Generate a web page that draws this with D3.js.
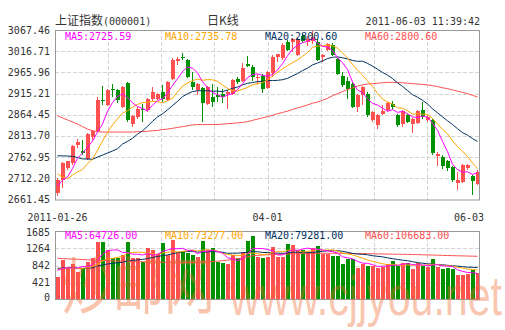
<!DOCTYPE html>
<html>
<head>
<meta charset="utf-8">
<script src="https://cdn.jsdelivr.net/npm/d3@7"></script>
<style>
  html, body { margin: 0; padding: 0; background: #fff; }
  svg { display: block; font-family: "DejaVu Sans Mono", monospace; }
</style>
</head>
<body>
<svg id="chart" width="505" height="330"></svg>
<script>
// ---- Daily K-line data: SSE Composite (000001), 2011-01-26 .. 2011-06-03 ----
const dates = [
  "2011-01-26","2011-01-27","2011-01-28","2011-01-31",
  "2011-02-01","2011-02-09","2011-02-10","2011-02-11","2011-02-14","2011-02-15","2011-02-16","2011-02-17","2011-02-18",
  "2011-02-21","2011-02-22","2011-02-23","2011-02-24","2011-02-25","2011-02-28",
  "2011-03-01","2011-03-02","2011-03-03","2011-03-04","2011-03-07","2011-03-08","2011-03-09","2011-03-10","2011-03-11",
  "2011-03-14","2011-03-15","2011-03-16","2011-03-17","2011-03-18","2011-03-21","2011-03-22","2011-03-23","2011-03-24",
  "2011-03-25","2011-03-28","2011-03-29","2011-03-30","2011-03-31",
  "2011-04-01","2011-04-06","2011-04-07","2011-04-08","2011-04-11","2011-04-12","2011-04-13","2011-04-14","2011-04-15",
  "2011-04-18","2011-04-19","2011-04-20","2011-04-21","2011-04-22","2011-04-25","2011-04-26","2011-04-27","2011-04-28","2011-04-29",
  "2011-05-03","2011-05-04","2011-05-05","2011-05-06","2011-05-09","2011-05-10","2011-05-11","2011-05-12","2011-05-13",
  "2011-05-16","2011-05-17","2011-05-18","2011-05-19","2011-05-20","2011-05-23","2011-05-24","2011-05-25","2011-05-26",
  "2011-05-27","2011-05-30","2011-05-31",
  "2011-06-01","2011-06-02","2011-06-03"
];

const opens = [
  2677,2707,2736,2749,2791,2778,2759,2811,2826,2900,
  2889,2927,2923,2883,2941,2843,2859,2879,2875,2901,
  2903,2919,2899,2950,2994,3003,2995,2943,2923,2929,
  2891,2906,2911,2915,2915,2915,2950,2946,2986,2980,
  2953,2958,2929,2965,3002,3000,3039,3039,3007,3053,
  3039,3040,3039,3002,3020,3031,2999,2958,2946,2939,
  2883,2911,2915,2851,2839,2867,2875,2891,2863,2843,
  2863,2843,2845,2877,2853,2851,2765,2763,2753,2739,
  2701,2703,2737,2718,2699
];
const highs = [
  2712,2752,2754,2792,2806,2804,2820,2828,2907,2934,
  2926,2937,2927,2934,2944,2863,2884,2891,2905,2931,
  2917,2935,2946,3001,3003,3013,2998,2967,2940,2932,
  2934,2939,2931,2925,2923,2949,2954,2988,3005,2984,
  2963,2961,2970,3008,3011,3036,3044,3049,3050,3058,
  3052,3067.46,3045,3011,3037,3036,3001,2967,2955,2942,
  2914,2934,2920,2874,2866,2887,2896,2898,2866,2877,
  2866,2857,2877,2895,2863,2854,2775,2769,2756,2742,
  2727,2746,2746,2721,2731
];
const lows = [
  2671,2688,2731,2745,2786,2767,2755,2803,2824,2887,
  2886,2907,2892,2880,2848,2836,2855,2846,2870,2897,
  2900,2896,2897,2947,2983,2995,2952,2923,2911,2847,
  2888,2883,2895,2893,2879,2912,2939,2944,2978,2946,
  2939,2916,2925,2955,2991,2996,3016,3015,3004,3036,
  3030,3035,2993,2991,3017,3004,2960,2931,2903,2880,
  2871,2887,2860,2847,2831,2863,2872,2876,2836,2835,
  2844,2820,2842,2855,2847,2768,2741,2735,2730,2703,
  2685,2700,2733,2673,2696
];
const closes = [
  2708.84,2749.15,2752.75,2790.69,2798.96,2772,2818,2826,2899,2897,
  2923,2923,2899,2931,2851,2861,2879,2875,2903,2919,
  2915,2901,2943,2995,2999,3001,2955,2931,2938,2893,
  2931,2895,2906,2907,2919,2947,2943,2977,2981,2956,
  2955,2925,2967,3002,3009,3031,3020,3047,3047,3041,
  3047,3050,2996,3007,3033,3007,2963,2935,2927,2883,
  2911,2931,2863,2871,2863,2874,2893,2882,2839,2874,
  2847,2854,2874,2858,2859.2,2774,2770,2742,2736,2707.85,
  2707.87,2743.47,2743.42,2705.17,2728.02
];
// trading volume, in units of the volume axis
const volumes = [
  570,980,780,870,690,790,935,1015,1425,1425,
  1220,1015,1035,1100,1425,1015,1015,935,1280,1220,
  1120,1385,1100,1465,1180,1180,1140,1100,1060,1440,
  1220,1260,920,895,870,1090,1015,1180,1450,1575,
  1060,1020,1060,1300,1060,1060,1370,1345,1220,1220,
  1180,1260,1330,1115,1115,1085,1085,870,995,995,
  775,870,840,840,775,800,880,950,820,900,
  900,760,900,820,798.5,1000,800,760,770,761.4,
  602,602,625,743,664.3
];

// sessions before the window (2010-12-29 .. 2011-01-25), used to seed the 5/10/20-day averages
const prevCloses = [2751,2760,2808,2853,2839,2824,2839,2791,2805,2821,
                    2827,2791,2706,2722,2714,2680,2715,2689,2677];
const prevVolumes = [820,760,700,880,940,860,790,720,680,830,
                     770,640,910,820,700,760,690,880,720];

// 60-day averages over the window
const ma60 = [
  2862,2857,2852,2847,2842,2836,2830,2826,2824,2823,
  2823,2823,2823,2823,2823,2823,2824,2824,2825,2826,
  2827,2829,2830,2832,2834,2836,2838,2840,2841,2841,
  2841,2841,2841,2842,2843,2844,2845,2846,2848,2851,
  2854,2857,2860,2863,2867,2870,2873,2877,2881,2884,
  2888,2892,2895,2899,2904,2910,2915,2920,2925,2929,
  2933,2936,2938,2939,2940,2941,2942,2942,2942,2941,
  2940,2939,2938,2937,2936,2934,2932,2929,2927,2924,
  2921,2918,2915,2911,2907
];
const volMa60 = [
  1017,1012,1006,1000,994,988,982,976,970,965,
  960,956,952,948,944,940,936,932,929,926,
  924,922,920,919,918,918,919,921,924,927,
  930,940,950,960,975,990,1010,1030,1055,1080,
  1090,1098,1105,1110,1115,1120,1124,1128,1132,1136,
  1140,1141,1142,1142,1142,1141,1140,1139,1138,1137,
  1135,1133,1131,1129,1126,1123,1121,1119,1117,1115,
  1113,1111,1108,1105,1101,1097,1094,1090,1086,1083,
  1080,1077,1074,1070,1066.83
];

const priceTicks = ["3067.46","3016.71","2965.96","2915.21","2864.45","2813.70","2762.95","2712.20","2661.45"];
const volumeTicks = ["1685","1264","842","421","0"];
const dateTicks = ["2011-01-26","2011-04-01","2011-06-03"];
const dateTickLabels = ["2011-01-26","04-01","06-03"];

const priceLegend = ["MA5:2725.59","MA10:2735.78","MA20:2800.60","MA60:2800.60"];
const volumeLegend = ["MA5:64726.00","MA10:73277.00","MA20:79281.00","MA60:106683.00"];

const titleName = "上证指数";
const titleCode = "(000001)";
const periodLabel = "日K线";
const timestamp = "2011-06-03 11:39:42";
const watermarkCn = "炒邮网";
const watermarkEn = "www.cjjyou.net";

// ---- layout & styles ----
const RED = "#ff5050", GREEN = "#009100";
const maColors = ["#ff00ff", "#ffa500", "#00315f", "#ff5050"];
const left = 55, right = 480;
const priceTop = 30, priceBottom = 199.5;
const volTop = 231, volBottom = 300;

const svg = d3.select("#chart");

const x = d3.scaleBand().domain(dates).range([left, right]).paddingInner(0.2).paddingOuter(0.1);
const bw = x.bandwidth();
const cx = d => x(d) + bw / 2;

const pMin = +priceTicks[priceTicks.length - 1], pMax = +priceTicks[0];
const y = d3.scaleLinear().domain([pMin, pMax]).range([priceBottom, priceTop]);
const vy = d3.scaleLinear().domain([0, +volumeTicks[0]]).range([volBottom, volTop]);
const gx = d3.scaleLinear().domain([0, 8]).range([left, right]);

const days = dates.map((d, i) => ({
  date: d, open: opens[i], high: highs[i], low: lows[i], close: closes[i], volume: volumes[i]
}));

function movingAverage(prev, vals, n) {
  const s = prev.concat(vals);
  return vals.map((_, i) => d3.mean(s.slice(prev.length + i - n + 1, prev.length + i + 1)));
}
const priceMA = [movingAverage(prevCloses, closes, 5), movingAverage(prevCloses, closes, 10),
                 movingAverage(prevCloses, closes, 20), ma60];
const volMA = [movingAverage(prevVolumes, volumes, 5), movingAverage(prevVolumes, volumes, 10),
               movingAverage(prevVolumes, volumes, 20), volMa60];

// ---- grids ----
const grid = svg.append("g").attr("stroke", "#d4d4d4").attr("stroke-dasharray", "4,2").attr("shape-rendering", "crispEdges");
priceTicks.slice(1, -1).forEach(t => {
  grid.append("line").attr("x1", left).attr("x2", right).attr("y1", Math.round(y(+t)) + 0.5).attr("y2", Math.round(y(+t)) + 0.5);
});
volumeTicks.slice(1, -1).forEach(t => {
  grid.append("line").attr("x1", left).attr("x2", right).attr("y1", Math.round(vy(+t)) + 0.5).attr("y2", Math.round(vy(+t)) + 0.5);
});
d3.range(1, 8).forEach(k => {
  const gxv = Math.round(gx(k)) + 0.5;
  grid.append("line").attr("x1", gxv).attr("x2", gxv).attr("y1", priceTop).attr("y2", priceBottom);
  grid.append("line").attr("x1", gxv).attr("x2", gxv).attr("y1", volTop).attr("y2", volBottom);
});

const colorOf = d => (d.close >= d.open ? RED : GREEN);

// ---- volume bars ----
svg.append("g").attr("shape-rendering", "crispEdges")
  .selectAll("rect").data(days).join("rect")
  .attr("x", d => x(d.date)).attr("width", bw)
  .attr("y", d => vy(d.volume)).attr("height", d => vy(0) - vy(d.volume))
  .attr("fill", colorOf);

// ---- candlesticks ----
const candles = svg.append("g").attr("shape-rendering", "crispEdges");
candles.selectAll("line").data(days).join("line")
  .attr("x1", d => Math.floor(cx(d.date)) + 0.5).attr("x2", d => Math.floor(cx(d.date)) + 0.5)
  .attr("y1", d => y(d.high)).attr("y2", d => y(d.low))
  .attr("stroke", colorOf).attr("stroke-width", 1);
candles.selectAll("rect").data(days).join("rect")
  .attr("x", d => x(d.date)).attr("width", bw)
  .attr("y", d => y(Math.max(d.open, d.close)))
  .attr("height", d => Math.max(1, Math.abs(y(d.open) - y(d.close))))
  .attr("fill", colorOf);

// ---- moving-average lines ----
const priceLine = d3.line().x((v, i) => cx(dates[i])).y(v => y(v));
const volLine = d3.line().x((v, i) => cx(dates[i])).y(v => vy(v));
[3, 2, 1, 0].forEach(k => {
  svg.append("path").attr("d", priceLine(priceMA[k])).attr("fill", "none")
    .attr("stroke", maColors[k]).attr("stroke-width", 1);
  svg.append("path").attr("d", volLine(volMA[k])).attr("fill", "none")
    .attr("stroke", maColors[k]).attr("stroke-width", 1);
});

// ---- frames ----
svg.append("rect").attr("x", left + 0.5).attr("y", priceTop + 0.5)
  .attr("width", right - left - 1).attr("height", priceBottom - priceTop)
  .attr("fill", "none").attr("stroke", "#999");
svg.append("rect").attr("x", left + 0.5).attr("y", volTop + 0.5)
  .attr("width", right - left - 1).attr("height", volBottom - volTop - 1)
  .attr("fill", "none").attr("stroke", "#999");

// ---- legends ----
priceLegend.forEach((t, k) => {
  svg.append("text").attr("x", left + 10 + 100 * k).attr("y", priceTop + 10)
    .attr("font-size", 10).attr("fill", maColors[k]).text(t);
});
volumeLegend.forEach((t, k) => {
  svg.append("text").attr("x", left + 10 + 100 * k).attr("y", volTop + 8)
    .attr("font-size", 10).attr("fill", maColors[k]).text(t);
});

// ---- axis labels ----
const axisText = "#333";
priceTicks.forEach(t => {
  svg.append("text").attr("x", left - 5).attr("y", y(+t)).attr("dy", "0.35em")
    .attr("text-anchor", "end").attr("font-size", 10).attr("fill", axisText).text(t);
});
volumeTicks.forEach(t => {
  const yy = Math.min(volBottom - 3, Math.max(volTop + 1, vy(+t)));
  svg.append("text").attr("x", left - 5).attr("y", yy).attr("dy", "0.35em")
    .attr("text-anchor", "end").attr("font-size", 10).attr("fill", axisText).text(t);
});
dateTicks.forEach((d, k) => {
  const t = svg.append("text").attr("x", cx(d)).attr("y", priceBottom + 21)
    .attr("text-anchor", "middle").attr("font-size", 10).attr("fill", axisText).text(dateTickLabels[k]);
  const w = t.node().getComputedTextLength();
  if (cx(d) + w / 2 > right + 4) t.attr("text-anchor", "end").attr("x", right + 4);
});

// ---- header ----
const head = svg.append("text").attr("x", left).attr("y", 25).attr("fill", axisText);
head.append("tspan").attr("font-family", "'Noto Sans CJK SC'").attr("font-size", 12).text(titleName);
head.append("tspan").attr("font-size", 10).text(titleCode);
svg.append("text").attr("x", 207).attr("y", 25).attr("fill", axisText)
  .attr("font-family", "'Noto Sans CJK SC'").attr("font-size", 12).text(periodLabel);
svg.append("text").attr("x", right).attr("y", 25).attr("text-anchor", "end")
  .attr("font-size", 10).attr("fill", axisText).text(timestamp);

// ---- site watermark ----
const wm = svg.append("g").attr("fill", "#f06a30").attr("fill-opacity", 0.4);
wm.append("text").attr("x", 62).attr("y", 309)
  .attr("font-family", "'Noto Sans CJK SC'").attr("font-size", 62)
  .attr("textLength", 153).attr("lengthAdjust", "spacingAndGlyphs").text(watermarkCn);
wm.append("text").attr("x", 230).attr("y", 315)
  .attr("font-family", "'Liberation Sans', Arial, sans-serif").attr("font-size", 56)
  .attr("textLength", 272).attr("lengthAdjust", "spacingAndGlyphs").text(watermarkEn);
</script>
</body>
</html>
